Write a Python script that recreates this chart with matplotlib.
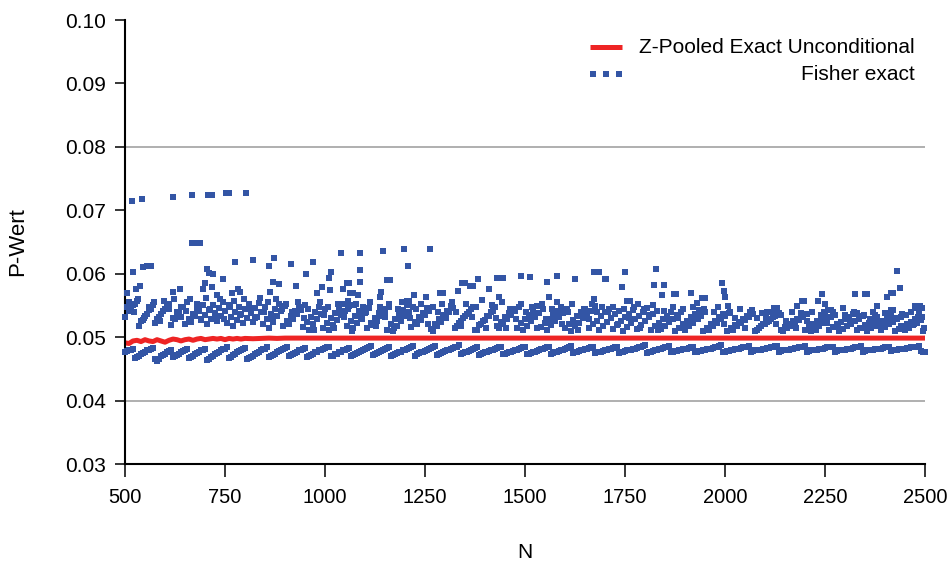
import matplotlib
matplotlib.use("Agg")
import matplotlib.pyplot as plt
import numpy as np
from matplotlib import font_manager

# Werte in Einheiten von 1e-4 (P-Wert * 10000)

# Fisher exact, untere Reihe, N = 500, 510, ..., 2500
fisher_low_n = np.arange(500, 2501, 10)
fisher_low = [
    476, 479, 482, 469, 473, 477, 480, 483, 462, 470,
    474, 478, 468, 472, 476, 480, 467, 471, 475, 479,
    482, 466, 471, 475, 479, 482, 467, 472, 476, 480,
    483, 467, 471, 475, 479, 482, 468, 472, 476, 480,
    483, 470, 474, 477, 480, 483, 471, 474, 477, 480,
    483, 485, 471, 474, 477, 480, 483, 472, 475, 478,
    481, 484, 472, 475, 478, 481, 484, 472, 475, 477,
    480, 483, 486, 473, 476, 478, 481, 484, 472, 475,
    478, 480, 483, 485, 473, 476, 478, 481, 484, 474,
    476, 478, 480, 483, 485, 474, 476, 478, 480, 483,
    485, 474, 476, 478, 481, 483, 485, 475, 477, 479,
    481, 484, 475, 477, 479, 481, 483, 485, 476, 477,
    479, 481, 483, 485, 476, 478, 479, 481, 483, 485,
    487, 476, 478, 480, 482, 484, 486, 477, 478, 480,
    481, 483, 485, 477, 478, 480, 481, 483, 485, 487,
    477, 478, 480, 481, 483, 484, 486, 478, 479, 480,
    482, 483, 485, 486, 478, 479, 480, 482, 483, 484,
    486, 478, 479, 480, 481, 483, 484, 485, 478, 479,
    480, 481, 483, 484, 486, 478, 479, 480, 481, 482,
    484, 485, 479, 480, 481, 482, 483, 484, 485, 478,
    477,
]

# Fisher exact, untere Reihe, N = 505, 515, ..., 2495
fisher_low2_n = np.arange(505, 2500, 10)
fisher_low2 = [
    478, 480, 467, 471, 475, 479, 481, 465, 466, 472,
    476, 480, 470, 474, 478, 482, 469, 473, 477, 480,
    464, 468, 473, 477, 481, 484, 469, 474, 478, 481,
    465, 469, 473, 477, 481, 484, 470, 474, 478, 482,
    485, 472, 475, 479, 482, 469, 472, 476, 479, 482,
    484, 470, 473, 476, 479, 482, 470, 474, 477, 480,
    483, 486, 474, 477, 480, 483, 470, 474, 476, 479,
    482, 485, 471, 475, 477, 480, 483, 486, 474, 477,
    479, 482, 484, 487, 475, 477, 480, 483, 472, 475,
    477, 479, 482, 484, 473, 475, 477, 479, 482, 484,
    473, 475, 477, 480, 482, 484, 474, 476, 478, 480,
    483, 486, 476, 478, 480, 482, 484, 475, 477, 478,
    480, 482, 484, 475, 477, 479, 480, 482, 484, 486,
    475, 477, 479, 481, 483, 485, 476, 478, 479, 481,
    482, 484, 476, 478, 479, 481, 482, 484, 486, 476,
    478, 479, 481, 482, 484, 485, 477, 479, 480, 481,
    483, 484, 486, 477, 479, 480, 481, 483, 484, 485,
    477, 479, 480, 481, 482, 484, 485, 477, 479, 480,
    481, 482, 484, 485, 477, 479, 480, 481, 482, 483,
    485, 478, 480, 481, 482, 483, 484, 485, 486, 477,
]

# Fisher exact, obere Reihe, N = 505, 515, ..., 2495
fisher_up_n = np.arange(505, 2500, 10)
fisher_up = [
    548, 545, 552, 518, 527, 536, 544, 522, 532, 541,
    549, 519, 528, 538, 547, 555, 524, 533, 541, 550,
    521, 529, 538, 546, 555, 523, 531, 540, 548, 522,
    530, 538, 546, 554, 520, 528, 536, 544, 552, 518,
    526, 534, 541, 548, 516, 524, 532, 540, 547, 514,
    522, 530, 538, 545, 552, 518, 526, 533, 541, 548,
    515, 523, 530, 538, 545, 512, 520, 528, 535, 543,
    550, 516, 524, 531, 538, 546, 513, 520, 528, 535,
    542, 549, 515, 522, 530, 537, 544, 512, 519, 526,
    533, 540, 547, 514, 521, 528, 535, 541, 548, 511,
    518, 525, 532, 538, 545, 512, 519, 525, 532, 538,
    545, 510, 517, 523, 530, 536, 542, 549, 512, 518,
    524, 530, 536, 542, 510, 516, 522, 528, 534, 540,
    546, 511, 517, 523, 528, 534, 540, 510, 515, 521,
    526, 532, 537, 543, 510, 515, 521, 526, 531, 537,
    509, 514, 519, 524, 529, 534, 539, 510, 515, 520,
    524, 529, 534, 538, 509, 514, 518, 523, 527, 532,
    536, 510, 514, 518, 523, 527, 531, 535, 509, 513,
    517, 521, 525, 529, 533, 510, 514, 518, 522, 526,
    530, 534, 509, 513, 517, 521, 524, 528, 532, 510,
]

# Fisher exact, obere Reihe, N = 500, 510, ..., 2490
fisher_up2_n = np.arange(500, 2500, 10)
fisher_up2 = [
    532, 541, 550, 557, 525, 534, 543, 551, 528, 537,
    545, 553, 530, 539, 547, 520, 529, 537, 546, 527,
    535, 543, 551, 526, 534, 542, 550, 518, 527, 536,
    544, 552, 524, 532, 540, 548, 515, 524, 533, 541,
    549, 520, 528, 536, 543, 551, 512, 521, 529, 537,
    544, 511, 519, 527, 535, 542, 549, 515, 523, 531,
    538, 546, 519, 526, 534, 541, 548, 510, 518, 525,
    533, 540, 547, 520, 527, 535, 542, 510, 517, 524,
    532, 539, 546, 518, 526, 533, 540, 547, 512, 520,
    527, 534, 541, 517, 524, 531, 538, 544, 515, 522,
    529, 535, 542, 549, 516, 522, 529, 535, 541, 547,
    514, 520, 527, 533, 539, 545, 514, 520, 526, 533,
    539, 545, 513, 519, 525, 531, 537, 543, 513, 519,
    525, 531, 536, 542, 513, 518, 524, 529, 535, 540,
    512, 518, 523, 529, 534, 540, 512, 517, 523, 528,
    533, 538, 512, 517, 522, 527, 532, 537, 512, 517,
    521, 526, 531, 536, 511, 516, 520, 525, 529, 534,
    512, 516, 521, 525, 529, 533, 512, 516, 520, 524,
    528, 532, 536, 511, 515, 519, 523, 527, 531, 512,
    516, 520, 524, 528, 532, 511, 515, 519, 523, 527,
]

# Fisher exact, verstreute Punkte im Band
fisher_mid_n = [
    510, 522, 532, 548, 560, 572, 588, 598, 610, 622, 640, 652, 662, 680, 690, 702,
    712, 728, 738, 748, 762, 772, 788, 798, 812, 826, 838, 848, 858, 868, 878, 892,
    902, 918, 932, 948, 958, 972, 988, 998, 1008, 1022, 1032, 1048, 1058, 1068, 1078, 1092,
    1102, 1112, 1128, 1138, 1150, 1160, 1172, 1182, 1192, 1212, 1228, 1240, 1258, 1270, 1282, 1292,
    1302, 1318, 1328, 1340, 1352, 1368, 1378, 1392, 1402, 1418, 1428, 1442, 1452, 1462, 1478, 1490,
    1502, 1518, 1530, 1542, 1552, 1568, 1580, 1592, 1608, 1618, 1632, 1648, 1660, 1668, 1680, 1692,
    1708, 1720, 1732, 1748, 1760, 1772, 1788, 1798, 1810, 1820, 1832, 1848, 1858, 1870, 1882, 1895,
    1908, 1920, 1932, 1948, 1958, 1972, 1982, 1998, 2012, 2025, 2038, 2050, 2062, 2080, 2092,
    2102, 2115, 2128, 2140, 2152, 2168, 2178, 2190, 2205, 2218, 2228, 2240, 2255, 2270, 2282, 2300,
    2312, 2322, 2338, 2348, 2362, 2375, 2390, 2400, 2412, 2428, 2440, 2452, 2465, 2472, 2485, 2498,
]
fisher_mid = [
    556, 540, 560, 530, 548, 555, 526, 557, 545, 560, 532, 542, 560, 552, 528, 562,
    545, 533, 560, 528, 548, 557, 535, 560, 545, 530, 562, 540, 556, 532, 560, 545,
    552, 540, 556, 530, 545, 512, 555, 535, 548, 515, 552, 532, 545, 510, 552, 528,
    540, 555, 518, 548, 532, 552, 515, 545, 555, 530, 545, 552, 520, 548, 540, 552,
    530, 555, 540, 518, 552, 532, 548, 558, 515, 550, 530, 556, 515, 545, 528, 552,
    540, 548, 515, 553, 528, 545, 555, 520, 540, 552, 512, 545, 528, 552, 540, 548,
    540, 548, 520, 545, 530, 548, 515, 545, 535, 550, 512, 542, 528, 548, 530, 545,
    518, 548, 528, 545, 512, 540, 548, 520, 540, 530, 545, 515, 540, 530, 538,
    530, 540, 520, 535, 525, 540, 515, 538, 525, 540, 512, 535, 522, 540, 518, 535,
    525, 540, 515, 535, 528, 535, 515, 538, 525, 530, 518, 535, 540, 520, 538, 515,
]

# Fisher exact, hohe Einzelwerte
fisher_high_n = [
    517, 542, 620, 667, 707, 717, 752, 760, 802, 667, 677, 687,
    520, 545, 555, 565, 705, 710, 720, 775, 820, 860, 872, 745, 870, 885, 527, 537,
    505, 637, 620, 700, 695, 717, 767, 782, 787, 730, 862,
    915, 927, 952, 970, 980, 992, 1010, 1015, 1012, 1040, 1045, 1055, 1060, 1062, 1070, 1057,
    1072, 1082, 1087, 1087, 1087, 1145, 1155, 1162, 1140, 1137, 1197, 1207, 1205, 1210, 1222, 1252,
    1262, 1287, 1295,
    1333, 1342, 1350, 1362, 1370, 1382, 1410, 1430, 1437, 1445, 1435, 1490, 1512, 1555, 1560, 1580,
    1625, 1672, 1678, 1685, 1672, 1700,
    1702, 1750, 1742, 1755, 1762, 1783, 1827, 1822, 1847, 1842, 1872, 1877, 1915, 1930, 1942, 1950,
    1992, 1997, 2000, 2007, 2067,
    2105, 2122, 2130, 2180, 2192, 2197, 2232, 2242, 2250, 2257, 2265, 2247, 2295, 2325, 2350, 2355,
    2330, 2370, 2380, 2405, 2415, 2420, 2430, 2437, 2415, 2420, 2442, 2475, 2480, 2488, 2492, 2482,
    2492,
]
fisher_high = [
    715, 718, 721, 724, 724, 724, 727, 727, 727, 648, 648, 648,
    603, 611, 612, 612, 608, 601, 600, 619, 622, 612, 625, 592, 587, 584, 576, 581,
    570, 576, 571, 585, 576, 579, 570, 576, 571, 566, 571,
    615, 581, 600, 618, 570, 579, 593, 603, 574, 633, 576, 585, 585, 570, 570, 557,
    551, 566, 633, 606, 587, 636, 590, 590, 571, 563, 639, 612, 557, 557, 566, 563,
    639, 570, 570,
    573, 585, 585, 581, 581, 592, 576, 593, 593, 593, 563, 596, 595, 587, 563, 596,
    592, 603, 603, 603, 560, 592,
    592, 603, 579, 557, 557, 552, 608, 582, 582, 566, 568, 568, 570, 554, 562, 562,
    585, 573, 563, 549, 543,
    540, 546, 546, 549, 557, 557, 557, 568, 552, 543, 543, 540, 546, 568, 568, 568,
    538, 540, 549, 563, 570, 570, 604, 578, 543, 543, 537, 549, 546, 549, 546, 532,
    532,
]

# Z-Pooled Exact Unconditional
zpooled_n = [500, 510, 520, 530, 540, 550, 560, 570, 580, 590, 600, 610, 620, 630, 640,
             650, 660, 670, 680, 690, 700, 710, 720, 730, 740, 750, 760, 770, 780, 790,
             800, 820, 840, 860, 880, 900, 1000, 1250, 1500, 1750, 2000, 2250, 2500]
zpooled = [491, 490, 494, 495, 493, 496, 494, 493, 496, 494, 492, 495, 497, 496, 494,
           496, 497, 495, 497, 498, 496, 497, 498, 497, 498, 496, 498, 497, 498, 497,
           498, 497.5, 498, 498.5, 498, 498.5, 498.5, 498.5, 498.5, 498.5, 498.5, 498.5, 498.5]

x_ticks = [500, 750, 1000, 1250, 1500, 1750, 2000, 2250, 2500]
y_ticks = [0.03, 0.04, 0.05, 0.06, 0.07, 0.08, 0.09, 0.10]


def has_font(name):
    try:
        font_manager.findfont(font_manager.FontProperties(family=name), fallback_to_default=False)
        return True
    except Exception:
        return False


main_font = 'Liberation Sans' if has_font('Liberation Sans') else 'DejaVu Sans'
narrow_font = 'Liberation Sans Narrow' if has_font('Liberation Sans Narrow') else main_font
plt.rcParams['font.family'] = main_font

blue = '#3355a5'
red = '#ee2424'
msize = 3.9

fig = plt.figure(figsize=(9.51, 5.65), dpi=100)
ax = fig.add_axes([125 / 951, 101 / 565, 800 / 951, 444 / 565])

# Hilfslinien
for g in (0.04, 0.08):
    ax.axhline(g, color='#9a9a9a', linewidth=1.1, zorder=1)

ax.plot(zpooled_n, np.array(zpooled) / 1e4, color=red, linewidth=3.6,
        solid_capstyle='butt', zorder=2)

for xs, ys in ((fisher_low_n, fisher_low), (fisher_low2_n, fisher_low2),
               (fisher_up_n, fisher_up), (fisher_up2_n, fisher_up2),
               (fisher_mid_n, fisher_mid), (fisher_high_n, fisher_high)):
    ax.plot(xs, np.array(ys) / 1e4, linestyle='none', marker='s', markersize=msize,
            markeredgewidth=0, color=blue, zorder=3, clip_on=False)

ax.set_xlim(500, 2500)
ax.set_ylim(0.03, 0.10)
ax.set_xticks(x_ticks)
ax.set_yticks(y_ticks)
ax.set_xticklabels([str(t) for t in x_ticks], fontsize=14.5, family=narrow_font)
ax.set_yticklabels([f'{t:.2f}' for t in y_ticks], fontsize=15)

for s in ('top', 'right'):
    ax.spines[s].set_visible(False)
for s in ('left', 'bottom'):
    ax.spines[s].set_linewidth(1.5)
ax.tick_params(axis='y', direction='out', length=7, width=1.1, pad=7)
ax.tick_params(axis='x', direction='out', length=9, width=1.1, pad=8)

ax.set_xlabel('N', fontsize=15, family=narrow_font, labelpad=26)
ax.set_ylabel('P-Wert', fontsize=16, labelpad=26)

# Legende (Symbole links, Text rechtsbündig)
ax.plot([0.581, 0.621], [0.939, 0.939], transform=ax.transAxes, color=red,
        linewidth=3.6, solid_capstyle='butt', clip_on=False)
ax.plot([0.585, 0.601, 0.617], [0.878, 0.878, 0.878], transform=ax.transAxes,
        linestyle='none', marker='s', markersize=msize, markeredgewidth=0,
        color=blue, clip_on=False)
ax.text(0.9875, 0.939, 'Z-Pooled Exact Unconditional', transform=ax.transAxes,
        ha='right', va='center', fontsize=15)
ax.text(0.9875, 0.878, 'Fisher exact', transform=ax.transAxes,
        ha='right', va='center', fontsize=15)

fig.savefig('out.png', dpi=100)
